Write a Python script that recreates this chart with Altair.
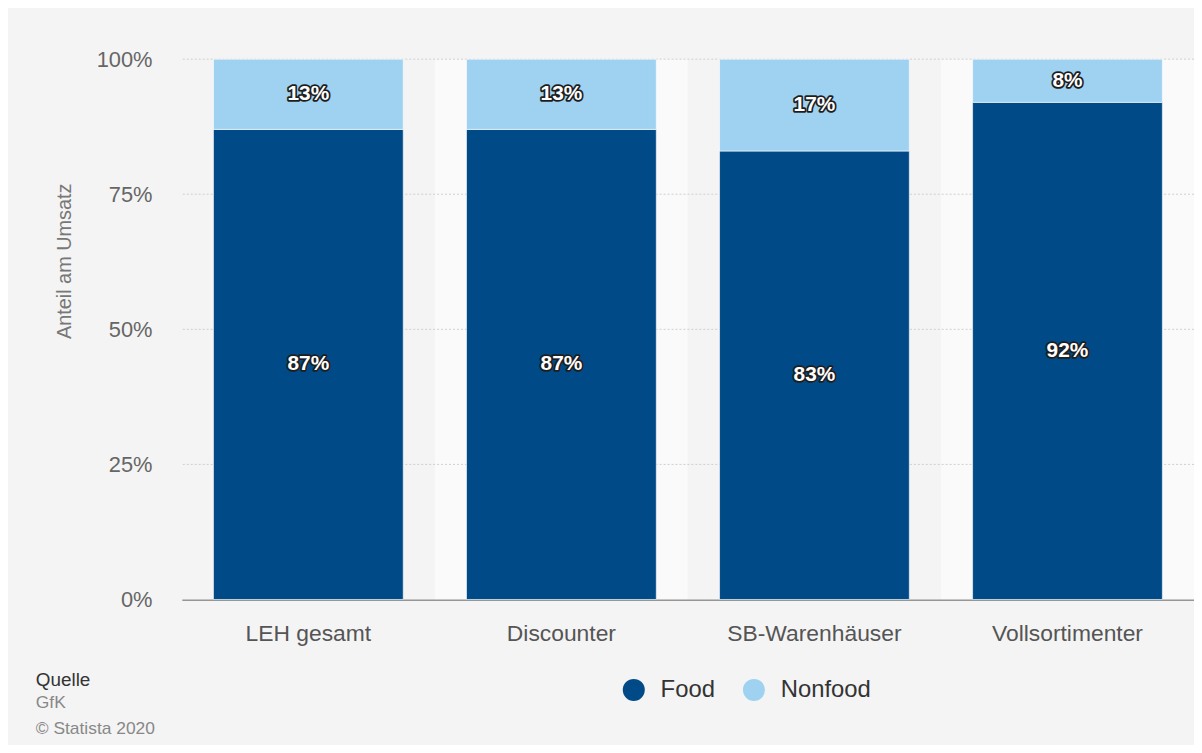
import altair as alt
import pandas as pd

categories = ["LEH gesamt", "Discounter", "SB-Warenhäuser", "Vollsortimenter"]
food = [87, 87, 83, 92]
nonfood = [13, 13, 17, 8]
series = ["Food", "Nonfood"]
series_colors = ["#004b87", "#9fd2f1"]
band_shades = ["#f4f4f4", "#fafafa", "#f4f4f4", "#fafafa"]
y_ticks = [0, 0.25, 0.5, 0.75, 1.0]
grid_ticks = [0.25, 0.5, 0.75, 1.0]

rows = []
for i, c in enumerate(categories):
    rows.append({"cat": c, "series": "Food", "value": food[i] / 100, "ord": 0,
                 "mid": food[i] / 200, "label": f"{food[i]}%"})
    rows.append({"cat": c, "series": "Nonfood", "value": nonfood[i] / 100, "ord": 1,
                 "mid": (food[i] + nonfood[i] / 2) / 100, "label": f"{nonfood[i]}%"})
df = pd.DataFrame(rows)
bands = pd.DataFrame({"cat": categories, "shade": band_shades})
grid = pd.DataFrame({"y": grid_ticks})

x_enc = alt.X(
    "cat:N", sort=categories, title=None,
    scale=alt.Scale(paddingInner=0.25, paddingOuter=0.125),
    axis=alt.Axis(labelAngle=0, labelFontSize=23, labelColor="#555555",
                  domainColor="#333333", domainWidth=1, ticks=False,
                  labelPadding=23, grid=False),
)
y_scale = alt.Scale(domain=[0, 1], nice=False)

band_layer = alt.Chart(bands).mark_bar(width=alt.RelativeBandSize(4 / 3)).encode(
    x=x_enc,
    y=alt.Y(datum=1, scale=y_scale),
    y2=alt.Y2(datum=0),
    fill=alt.Fill("shade:N", scale=None, legend=None),
)

grid_layer = alt.Chart(grid).mark_rule(color="#cfcfcf", strokeDash=[2, 2], strokeWidth=1).encode(
    y=alt.Y("y:Q", scale=y_scale),
)

bars = alt.Chart(df).mark_bar(stroke="#ffffff", strokeWidth=0.6).encode(
    x=alt.X("cat:N", sort=categories),
    y=alt.Y(
        "value:Q", stack="zero", scale=y_scale,
        title="Anteil am Umsatz",
        axis=alt.Axis(values=y_ticks, format=".0%", grid=False, domain=False,
                      ticks=False, labelFontSize=22, labelColor="#666666",
                      labelPadding=30, titleFontSize=20, titleFontWeight="normal",
                      titleColor="#777777", titleX=-118, titleY=203,
                      titleAngle=270, titleBaseline="middle", titleAlign="center"),
    ),
    color=alt.Color(
        "series:N",
        scale=alt.Scale(domain=series, range=series_colors),
        legend=alt.Legend(title=None, orient="none", direction="horizontal",
                          legendX=443, legendY=623, symbolType="circle",
                          symbolSize=490, symbolStrokeWidth=0,
                          labelFontSize=24, labelColor="#333333",
                          labelOffset=15, columnPadding=27, padding=0),
    ),
    order=alt.Order("ord:Q", sort="ascending"),
)

outline = alt.Chart(df).mark_text(
    fontSize=21, fontWeight="bold", color="#1e1e1e", stroke="#1e1e1e",
    strokeWidth=3.5, strokeJoin="round", baseline="middle",
).encode(
    x=alt.X("cat:N", sort=categories),
    y=alt.Y("mid:Q", scale=y_scale),
    text="label:N",
)

labels = alt.Chart(df).mark_text(
    fontSize=21, fontWeight="bold", color="#ffffff", baseline="middle",
).encode(
    x=alt.X("cat:N", sort=categories),
    y=alt.Y("mid:Q", scale=y_scale),
    text="label:N",
)

chart = alt.layer(band_layer, grid_layer, bars, outline, labels).properties(
    width=1019,
    height=544,
    autosize=alt.AutoSizeParams(type="none"),
    padding={"left": 175, "top": 49, "right": 0, "bottom": 144},
    background="#f4f4f4",
    title=alt.Title(
        "Quelle",
        subtitle=["GfK", "© Statista 2020"],
        orient="bottom", anchor="start", frame="bounds",
        fontSize=19, fontWeight="normal", color="#333333",
        subtitleFontSize=17.5, subtitleColor="#888888",
        subtitleLineHeight=26, subtitlePadding=4, offset=-31, dx=-19,
    ),
).configure(
    font="Liberation Sans",
).configure_view(stroke=None)

chart.save("out.html", embed_options={"renderer": "svg", "actions": False})
